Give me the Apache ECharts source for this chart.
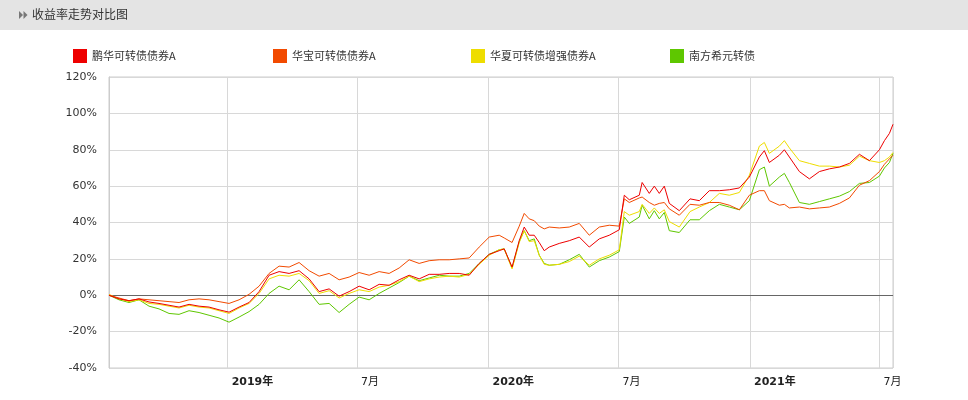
<!DOCTYPE html>
<html>
<head>
<meta charset="utf-8">
<script src="https://cdn.jsdelivr.net/npm/echarts@6/dist/echarts.min.js"></script>
<style>
html,body{margin:0;padding:0;background:#fff;}
#chart{width:968px;height:400px;}
</style>
</head>
<body>
<div id="chart"></div>
<script>
const seriesNames = ['鹏华可转债债券A', '华宝可转债债券A', '华夏可转债增强债券A', '南方希元转债'];
const seriesColors = ['#ee0000', '#f24a00', '#eedd00', '#5ec700'];
const yTicks = [-40, -20, 0, 20, 40, 60, 80, 100, 120];

const dates = [
'2018-07-19','2018-08-02','2018-08-16','2018-08-30','2018-09-13','2018-09-27','2018-10-11','2018-10-25','2018-11-08','2018-11-22',
'2018-12-06','2018-12-20','2019-01-03','2019-01-17','2019-01-31','2019-02-14','2019-02-28','2019-03-14','2019-03-28','2019-04-11',
'2019-04-25','2019-05-09','2019-05-23','2019-06-06','2019-06-20','2019-07-04','2019-07-18','2019-08-01','2019-08-15','2019-08-29',
'2019-09-12','2019-09-26','2019-10-10','2019-10-24','2019-11-07','2019-11-21','2019-12-05','2019-12-19','2020-01-02','2020-01-16',
'2020-01-23','2020-02-03','2020-02-13','2020-02-20','2020-02-27','2020-03-05','2020-03-12','2020-03-19','2020-03-26','2020-04-09',
'2020-04-23','2020-05-07','2020-05-21','2020-06-04','2020-06-18','2020-07-02','2020-07-09','2020-07-16','2020-07-30','2020-08-03',
'2020-08-13','2020-08-20','2020-08-27','2020-09-03','2020-09-10','2020-09-24','2020-10-09','2020-10-22','2020-11-05','2020-11-19',
'2020-12-03','2020-12-17','2020-12-31','2021-01-14','2021-01-21','2021-01-28','2021-02-11','2021-02-18','2021-02-25','2021-03-11',
'2021-03-25','2021-04-08','2021-04-22','2021-05-06','2021-05-20','2021-06-03','2021-06-17','2021-07-01','2021-07-08','2021-07-15',
'2021-07-20'
];

const pengHua = [
0,-2,-3,-2,-3.7,-4.5,-5.5,-6.5,-5,-6,
-6.5,-8,-9.3,-6.5,-4,2,11,13,12,13.5,
9,2,3.5,-0.5,2,5,3,6,5.5,8.5,
11,9,11.5,11.5,12,12,11,17.5,22.5,24.5,
25.5,15.5,30,37.5,33,33,29,24.5,26.5,28.5,
30,32,26.5,31,33,36,55,52.5,55,62,
56,60,56,60,50.5,46.5,53,52,57.5,57.5,
58,59,65,76,79.5,73,77,80,76,68,
64,68,69.5,70.5,72.5,77.5,74,80,85,89,
94
];

const huaBao = [
0,-1.5,-3,-2,-2.5,-3,-3.5,-4,-2.5,-2,
-2.5,-3.5,-4.5,-2.5,0.5,5,12,16,15.5,18,
13.5,10.5,12,8.5,10,12.5,11,13,12,15,
19.5,17.5,19,19.5,19.5,20,20.5,26.5,32,33,
31.5,29,38,45,42,41,38,36.5,37.5,37,
37.5,39.5,33,37.5,38.5,38,53,51,53.5,54,
51,49.5,50.5,51,47.5,44,50,49.5,51,51,
49.5,47,55,57.5,57.5,52,49.5,50,48,48.5,
47.5,48,48.5,50.5,53.5,60.5,63,68,72,75,
77
];

const huaXia = [
0.5,-2,-3.5,-2.5,-4.5,-5,-6,-7,-5.5,-6.5,
-7,-8.5,-10,-7,-4.5,1,9,11,10.5,12,
8,1,2.5,-1.5,1,3,2,4.5,5.5,7.5,
10.5,7.5,9,10,10.5,10,11.5,17,22,25,
25.5,14.5,29,35.5,29.5,30,22,17,16.5,17,
18.5,21.5,16.5,20,22,25,46,44,46,50,
45,48,45,47,40.5,37.5,46,48.5,51,56,
55,56.5,66,82,84,78,82,85,81,74,
72.5,71,71,70.5,71.5,76.5,74,73,74,76,
78.5
];

const nanFang = [
0,-2.5,-4,-2.5,-6,-7.5,-10,-10.5,-8.5,-9.5,
-11,-12.5,-14.8,-12,-9,-5,1,5,3,8.5,
2,-5,-4.5,-9.5,-5,-1,-2.5,1,4,7,
10.5,8,9.5,11,10.5,10.5,12,17.5,22.5,25,
25.5,15,29.5,35.5,30,31,22,17.5,16.5,17,
19.5,22.5,15.5,19,21,24,43,39.5,43,49.5,
42,46.5,42,45.5,35.5,34.5,41.5,41.5,46.5,50,
48.5,47,52,69,70.5,60,65,67,62,51,
50,51.5,53,54.5,57,61.5,62,65.5,70,73,
78
];

const allValues = [pengHua, huaBao, huaXia, nanFang];

const chart = echarts.init(document.getElementById('chart'), null, {renderer: 'canvas'});
const fontFamily = '"DejaVu Sans", "Noto Sans CJK SC", sans-serif';

const legends = seriesNames.map((name, i) => ({
  data: [name],
  left: [68, 268, 466, 665][i],
  top: 44,
  icon: 'rect',
  itemWidth: 14,
  itemHeight: 14,
  selectedMode: false,
  textStyle: {fontSize: 11, color: '#333', fontFamily: '"Noto Sans CJK SC", sans-serif'}
}));

const series = seriesNames.map((name, i) => {
  const s = {
    name: name,
    type: 'line',
    showSymbol: false,
    symbol: 'none',
    color: seriesColors[i],
    lineStyle: {width: 1, color: seriesColors[i]},
    data: dates.map((d, k) => [d, allValues[i][k]]),
    z: 10 - i
  };
  if (i === 3) {
    s.markLine = {
      silent: true,
      symbol: 'none',
      label: {show: false},
      lineStyle: {color: '#666', width: 1, type: 'solid'},
      data: [{yAxis: 0}],
      z: 1
    };
  }
  return s;
});
series.reverse();

chart.setOption({
  animation: false,
  backgroundColor: '#fff',
  graphic: [
    {type: 'rect', left: 0, top: 0, shape: {width: 968, height: 30}, style: {fill: '#e4e4e4'}, z: -1},
    {type: 'polygon', shape: {points: [[19, 11], [23, 15], [19, 19]]}, style: {fill: '#777'}},
    {type: 'polygon', shape: {points: [[23.5, 11], [27.5, 15], [23.5, 19]]}, style: {fill: '#777'}},
    {type: 'text', left: 32, top: 8, style: {text: '收益率走势对比图', fill: '#333', font: '12px "Noto Sans CJK SC", sans-serif'}}
  ],
  legend: legends,
  grid: {left: 109, right: 75, top: 77, bottom: 32, show: true, borderColor: '#ccc', borderWidth: 1},
  xAxis: {
    type: 'time',
    min: '2018-07-19',
    max: '2021-07-20',
    splitNumber: 6,
    minInterval: 180 * 86400000,
    maxInterval: 185 * 86400000,
    axisLine: {show: true, lineStyle: {color: '#ccc'}},
    axisTick: {show: true, length: 6, lineStyle: {color: '#ccc'}},
    splitLine: {show: true, lineStyle: {color: '#d8d8d8', width: 1}},
    axisLabel: {
      align: 'left',
      margin: 9,
      padding: [0, 0, 0, 4],
      color: '#222',
      fontSize: 11,
      fontFamily: fontFamily,
      showMinLabel: false,
      showMaxLabel: false,
      formatter: function (value) {
        const d = new Date(value);
        if (d.getMonth() === 0) return '{y|' + d.getFullYear() + '年}';
        return (d.getMonth() + 1) + '月';
      },
      rich: {y: {fontWeight: 'bold', fontSize: 11, color: '#222', fontFamily: fontFamily}}
    }
  },
  yAxis: {
    type: 'value',
    min: yTicks[0],
    max: yTicks[yTicks.length - 1],
    interval: 20,
    axisLine: {show: true, lineStyle: {color: '#ccc'}},
    axisTick: {show: false},
    splitLine: {show: true, lineStyle: {color: '#d8d8d8', width: 1}},
    axisLabel: {
      margin: 12,
      color: '#333',
      fontSize: 11,
      fontFamily: fontFamily,
      formatter: '{value}%'
    }
  },
  series: series
});
</script>
</body>
</html>
